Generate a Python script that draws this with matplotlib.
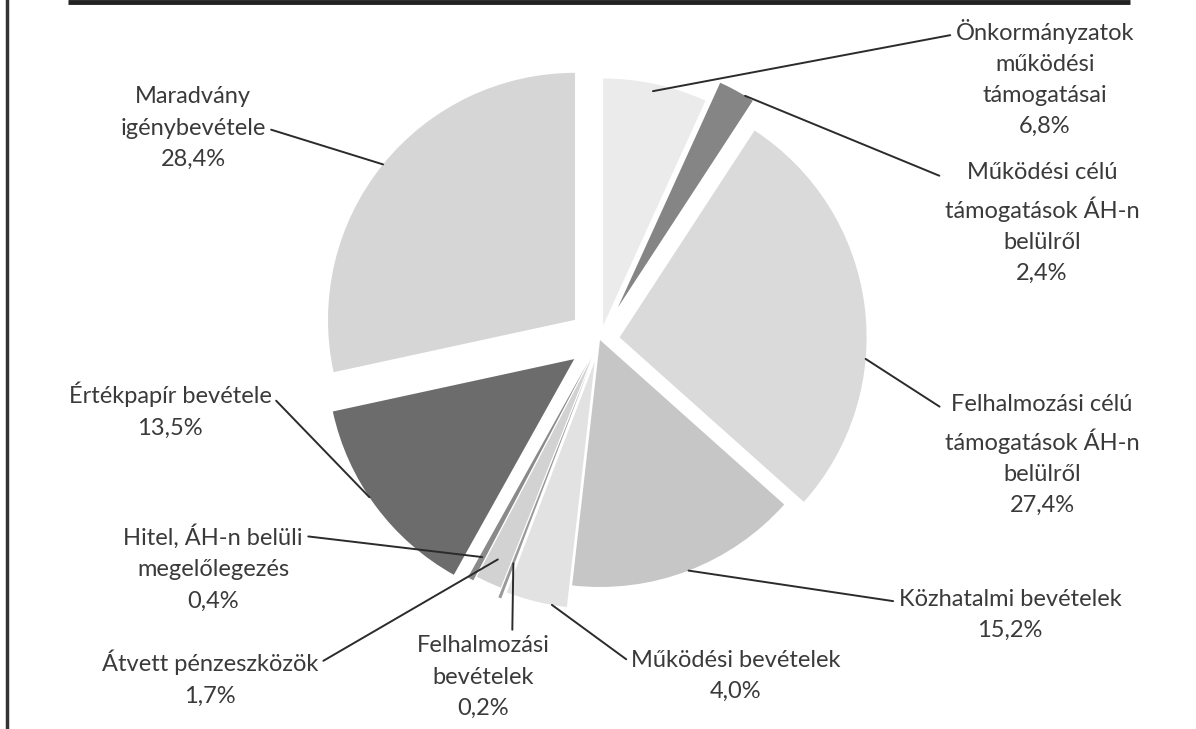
import numpy as np
import matplotlib
matplotlib.use("Agg")
import matplotlib.pyplot as plt

# adatok (a kördiagram szeletei, óramutató járásával, 12 órától)
labels = [
    "Önkormányzatok\nműködési\ntámogatásai",
    "Működési célú\ntámogatások ÁH-n\nbelülről",
    "Felhalmozási célú\ntámogatások ÁH-n\nbelülről",
    "Közhatalmi bevételek",
    "Működési bevételek",
    "Felhalmozási\nbevételek",
    "Átvett pénzeszközök",
    "Hitel, ÁH-n belüli\nmegelőlegezés",
    "Értékpapír bevétele",
    "Maradvány\nigénybevétele",
]
shares = [6.8, 2.4, 27.4, 15.2, 4.0, 0.2, 1.7, 0.4, 13.5, 28.4]

# stílus
colors = ["#ebebeb", "#858585", "#dadada", "#c6c6c6", "#e2e2e2",
          "#9a9a9a", "#d2d2d2", "#8a8a8a", "#6c6c6c", "#d6d6d6"]
explode = [0.06, 0.15, 0.08, 0.0, 0.09, 0.12, 0.08, 0.1, 0.13, 0.13]

W, H = 1196, 729
R = 247


def Y(py):
    return H - py


# címke helye (px), vonal kezdete a szövegen (relpos), csatlakozás a szeletre (szög órairányban, sugár-arány)
label_pos = [(1045, 78), (1042, 223), (1042, 455), (1010, 615), (736, 676),
             (483, 677), (210, 678), (213, 568), (170, 410), (193, 128)]
relpos = [(0, 0.87), (0, 0.87), (0, 0.87), (0, 0.75), (0, 0.75),
          (0.72, 1.0), (1, 0.75), (1, 0.87), (1, 0.75), (1, 0.5)]
anchors = [(12, 0.97), (31, 1.0), (95, 1.0), (159, 1.0), (190, 1.0),
           (201.2, 0.85), (205, 0.9), (208.5, 0.9), (236, 1.0), (309, 1.0)]

plt.rcParams['font.family'] = ['Lato', 'DejaVu Sans']

fig = plt.figure(figsize=(W / 100, H / 100), dpi=100)
ax = fig.add_axes([0, 0, 1, 1])

wedges, _ = ax.pie(shares, colors=colors, explode=[e * R for e in explode],
                   startangle=90, counterclock=False, center=(600, Y(340)),
                   radius=R, wedgeprops=dict(linewidth=0))

ax.set_xlim(0, W)
ax.set_ylim(0, H)
ax.set_aspect("equal")
ax.axis("off")

for w, lab, val, pos, rp, (a_cw, rf) in zip(wedges, labels, shares, label_pos, relpos, anchors):
    cx, cy = w.center
    a = np.deg2rad(a_cw)
    xy = (cx + w.r * rf * np.sin(a), cy + w.r * rf * np.cos(a))
    txt = lab + "\n" + f"{val:.1f}".replace(".", ",") + "%"
    ax.annotate(txt, xy=xy, xytext=(pos[0], Y(pos[1])), ha="center", va="center",
                fontsize=17, color="#3a3a3a", linespacing=1.6,
                arrowprops=dict(arrowstyle="-", color="#2b2b2b", lw=1.4,
                                relpos=rp, shrinkA=2, shrinkB=0))

# keret maradványai (szkennelt kép széle)
ax.plot([68, 1130], [Y(2), Y(2)], color="#222222", lw=3.5, solid_capstyle="butt")
ax.plot([7, 7], [0, H], color="#333333", lw=2.5)

fig.savefig("out.png", dpi=100)
